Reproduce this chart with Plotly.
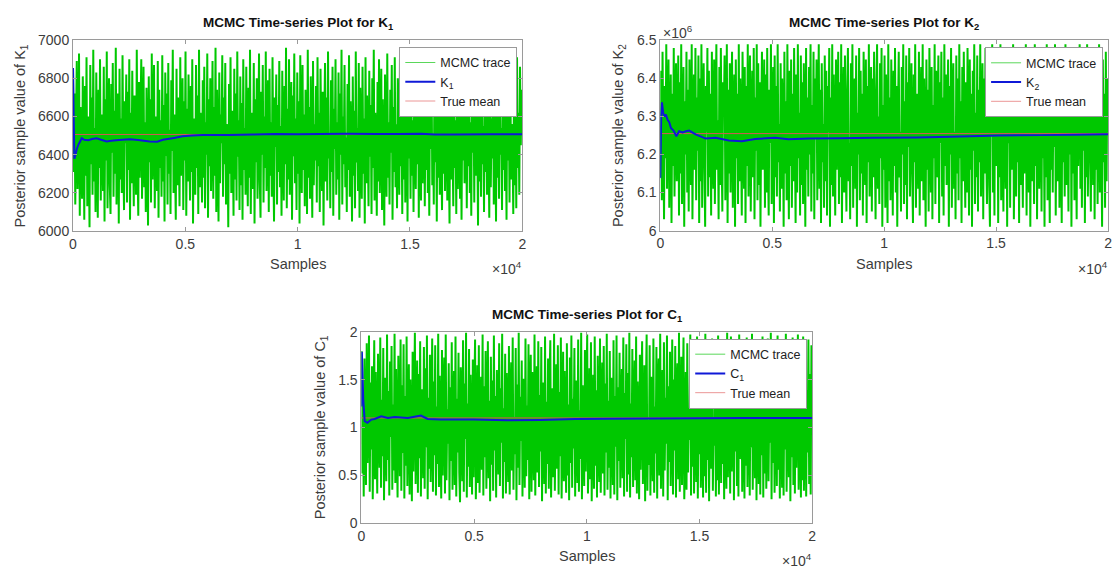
import numpy as np
import plotly.graph_objects as go

# ---------------- data ----------------
# Thinned MCMC draws (600 retained from a 20000-sample chain)
k1_trace = [
    6850, 6310, 6720, 6140, 6580, 6890, 6220, 6470, 6930, 6080, 6650, 6390, 6170, 6810, 6520, 6060, 6760, 6290, 6910, 6130, 6600, 6440, 6020, 6870, 6350,
    6700, 6190, 6950, 6260, 6540, 6100, 6830, 6420, 6070, 6740, 6330, 6900, 6160, 6610, 6480, 6210, 6860, 6050, 6690, 6370, 6940, 6120, 6560, 6800, 6240,
    6090, 6770, 6410, 6880, 6180, 6630, 6300, 6960, 6140, 6500, 6720, 6040, 6850, 6270, 6590, 6200, 6920, 6380, 6110, 6680, 6460, 6820, 6150, 6730, 6320,
    6900, 6060, 6620, 6250, 6840, 6430, 6130, 6710, 6550, 6190, 6950, 6340, 6080, 6780, 6280, 6640, 6900, 6170, 6490, 6860, 6230, 6570, 6100, 6750, 6400,
    6030, 6810, 6360, 6690, 6150, 6930, 6270, 6510, 6870, 6120, 6600, 6450, 6210, 6890, 6070, 6740, 6330, 6580, 6180, 6920, 6260, 6660, 6050, 6830, 6390,
    6720, 6140, 6880, 6300, 6530, 6090, 6790, 6420, 6950, 6200, 6610, 6350, 6060, 6850, 6240, 6700, 6470, 6130, 6910, 6290, 6560, 6800, 6110, 6680, 6370,
    6940, 6080, 6640, 6260, 6820, 6500, 6160, 6760, 6310, 6900, 6040, 6590, 6440, 6190, 6870, 6330, 6710, 6090, 6950, 6230, 6620, 6480, 6150, 6790, 6280,
    6860, 6120, 6570, 6400, 6930, 6070, 6690, 6340, 6800, 6210, 6520, 6890, 6170, 6650, 6290, 6960, 6100, 6740, 6380, 6050, 6830, 6250, 6610, 6460, 6920,
    6180, 6700, 6350, 6880, 6140, 6560, 6430, 6020, 6770, 6300, 6910, 6200, 6630, 6490, 6080, 6850, 6270, 6720, 6160, 6940, 6390, 6580, 6110, 6810, 6240,
    6670, 6060, 6900, 6320, 6540, 6190, 6860, 6410, 6130, 6750, 6280, 6950, 6090, 6620, 6450, 6220, 6880, 6040, 6690, 6360, 6800, 6170, 6510, 6930, 6260,
    6070, 6730, 6400, 6870, 6150, 6600, 6330, 6940, 6210, 6480, 6790, 6100, 6850, 6290, 6570, 6180, 6910, 6370, 6050, 6700, 6440, 6820, 6140, 6660, 6310,
    6890, 6230, 6550, 6080, 6840, 6420, 6160, 6760, 6350, 6960, 6120, 6640, 6270, 6900, 6190, 6500, 6780, 6060, 6710, 6390, 6930, 6250, 6590, 6110, 6830,
    6300, 6680, 6040, 6920, 6460, 6200, 6870, 6320, 6610, 6130, 6740, 6530, 6090, 6950, 6280, 6650, 6170, 6810, 6410, 6070, 6890, 6240, 6560, 6370, 6760,
    6150, 6910, 6340, 6620, 6100, 6850, 6450, 6210, 6730, 6030, 6580, 6880, 6260, 6700, 6160, 6940, 6380, 6510, 6120, 6790, 6310, 6860, 6080, 6640, 6430,
    6900, 6190, 6570, 6270, 6830, 6060, 6720, 6400, 6950, 6140, 6600, 6350, 6870, 6230, 6490, 6100, 6770, 6320, 6920, 6180, 6680, 6440, 6050, 6810, 6290,
    6630, 6120, 6940, 6360, 6540, 6210, 6880, 6070, 6750, 6420, 6170, 6860, 6300, 6590, 6040, 6910, 6250, 6710, 6480, 6130, 6840, 6390, 6660, 6090, 6800,
    6330, 6950, 6160, 6620, 6440, 6080, 6780, 6260, 6900, 6200, 6520, 6850, 6110, 6690, 6370, 6030, 6820, 6460, 6180, 6930, 6280, 6570, 6140, 6740, 6410,
    6870, 6060, 6650, 6310, 6910, 6230, 6560, 6120, 6800, 6430, 6190, 6960, 6340, 6610, 6090, 6760, 6270, 6880, 6150, 6500, 6720, 6050, 6850, 6380, 6640,
    6170, 6920, 6290, 6580, 6100, 6830, 6470, 6220, 6710, 6350, 6940, 6070, 6630, 6400, 6160, 6890, 6250, 6540, 6810, 6130, 6690, 6320, 6950, 6200, 6600,
    6080, 6770, 6430, 6870, 6240, 6510, 6140, 6920, 6360, 6680, 6050, 6840, 6280, 6600, 6190, 6900, 6420, 6110, 6750, 6300, 6960, 6210, 6560, 6830, 6160,
    6700, 6390, 6040, 6860, 6270, 6620, 6450, 6130, 6930, 6330, 6580, 6090, 6790, 6220, 6890, 6480, 6170, 6730, 6060, 6640, 6370, 6910, 6250, 6520, 6820,
    6120, 6680, 6340, 6950, 6200, 6570, 6080, 6850, 6410, 6740, 6150, 6900, 6290, 6610, 6460, 6030, 6810, 6260, 6700, 6180, 6940, 6350, 6550, 6100, 6870,
    6310, 6660, 6190, 6800, 6440, 6070, 6920, 6230, 6590, 6380, 6880, 6140, 6720, 6490, 6050, 6830, 6280, 6630, 6170, 6950, 6400, 6540, 6110, 6760, 6320,
    6890, 6210, 6600, 6060, 6850, 6370, 6710, 6150, 6930, 6270, 6560, 6430, 6090, 6800, 6240, 6680, 6120, 6910, 6330, 6620, 6190, 6860, 6450, 6740, 6510,
]

# K2 draws, in units of 10^6
k2_trace_e6 = [
    6.14, 6.42, 6.08, 6.47, 6.25, 6.03, 6.38, 6.19, 6.49, 6.11, 6.33, 6.45, 6.06, 6.28, 6.41, 6.02, 6.36, 6.17, 6.48, 6.09, 6.31, 6.44, 6.13, 6.22, 6.46,
    6.04, 6.39, 6.15, 6.49, 6.07, 6.27, 6.43, 6.01, 6.34, 6.20, 6.47, 6.10, 6.37, 6.05, 6.45, 6.24, 6.12, 6.49, 6.03, 6.30, 6.41, 6.16, 6.48, 6.08, 6.35,
    6.21, 6.46, 6.02, 6.40, 6.13, 6.49, 6.06, 6.32, 6.44, 6.18, 6.01, 6.38, 6.26, 6.48, 6.09, 6.42, 6.14, 6.36, 6.04, 6.47, 6.23, 6.11, 6.45, 6.07, 6.33,
    6.49, 6.16, 6.29, 6.03, 6.43, 6.12, 6.48, 6.20, 6.05, 6.39, 6.31, 6.46, 6.08, 6.25, 6.49, 6.02, 6.37, 6.15, 6.44, 6.10, 6.34, 6.47, 6.06, 6.28, 6.41,
    6.01, 6.45, 6.19, 6.36, 6.07, 6.49, 6.13, 6.40, 6.24, 6.04, 6.47, 6.30, 6.11, 6.43, 6.02, 6.38, 6.17, 6.49, 6.09, 6.33, 6.46, 6.05, 6.27, 6.42, 6.14,
    6.48, 6.03, 6.35, 6.21, 6.49, 6.08, 6.44, 6.12, 6.39, 6.01, 6.30, 6.47, 6.16, 6.26, 6.45, 6.06, 6.41, 6.10, 6.48, 6.19, 6.04, 6.37, 6.23, 6.49, 6.07,
    6.32, 6.43, 6.02, 6.46, 6.14, 6.38, 6.09, 6.49, 6.18, 6.28, 6.05, 6.44, 6.11, 6.40, 6.29, 6.01, 6.47, 6.15, 6.34, 6.08, 6.49, 6.22, 6.03, 6.42, 6.17,
    6.45, 6.06, 6.36, 6.13, 6.48, 6.25, 6.02, 6.41, 6.10, 6.49, 6.19, 6.31, 6.04, 6.46, 6.12, 6.39, 6.07, 6.44, 6.27, 6.01, 6.48, 6.16, 6.35, 6.09, 6.43,
    6.20, 6.49, 6.05, 6.33, 6.15, 6.47, 6.03, 6.40, 6.24, 6.45, 6.08, 6.30, 6.49, 6.11, 6.37, 6.02, 6.44, 6.18, 6.28, 6.06, 6.46, 6.13, 6.42, 6.04, 6.38,
    6.26, 6.48, 6.01, 6.35, 6.12, 6.49, 6.09, 6.41, 6.21, 6.04, 6.45, 6.16, 6.32, 6.47, 6.07, 6.39, 6.14, 6.49, 6.02, 6.29, 6.43, 6.10, 6.46, 6.19, 6.05,
    6.37, 6.48, 6.13, 6.23, 6.03, 6.44, 6.17, 6.49, 6.06, 6.34, 6.40, 6.11, 6.46, 6.01, 6.31, 6.20, 6.48, 6.08, 6.42, 6.15, 6.36, 6.04, 6.47, 6.25, 6.12,
    6.45, 6.02, 6.38, 6.18, 6.49, 6.09, 6.27, 6.43, 6.05, 6.40, 6.14, 6.47, 6.22, 6.03, 6.36, 6.49, 6.11, 6.30, 6.07, 6.44, 6.19, 6.48, 6.01, 6.33, 6.16,
    6.46, 6.06, 6.41, 6.24, 6.02, 6.49, 6.13, 6.35, 6.08, 6.45, 6.28, 6.04, 6.42, 6.17, 6.48, 6.10, 6.38, 6.01, 6.31, 6.47, 6.14, 6.26, 6.05, 6.43, 6.20,
    6.49, 6.07, 6.34, 6.12, 6.46, 6.03, 6.39, 6.22, 6.48, 6.09, 6.29, 6.44, 6.15, 6.02, 6.41, 6.18, 6.49, 6.06, 6.36, 6.25, 6.11, 6.47, 6.04, 6.32, 6.43,
    6.13, 6.49, 6.08, 6.40, 6.21, 6.01, 6.45, 6.16, 6.37, 6.05, 6.48, 6.27, 6.10, 6.43, 6.03, 6.33, 6.19, 6.49, 6.07, 6.42, 6.14, 6.30, 6.46, 6.02, 6.39,
    6.23, 6.47, 6.09, 6.35, 6.04, 6.49, 6.17, 6.41, 6.12, 6.28, 6.45, 6.01, 6.38, 6.20, 6.48, 6.06, 6.32, 6.44, 6.11, 6.26, 6.03, 6.46, 6.15, 6.40, 6.08,
    6.49, 6.19, 6.34, 6.02, 6.43, 6.13, 6.47, 6.24, 6.06, 6.39, 6.10, 6.48, 6.29, 6.04, 6.45, 6.16, 6.36, 6.01, 6.42, 6.21, 6.49, 6.07, 6.31, 6.14, 6.46,
    6.05, 6.37, 6.18, 6.49, 6.09, 6.27, 6.44, 6.03, 6.40, 6.15, 6.48, 6.22, 6.07, 6.33, 6.46, 6.12, 6.01, 6.41, 6.25, 6.49, 6.10, 6.35, 6.04, 6.47, 6.17,
    6.30, 6.45, 6.02, 6.38, 6.14, 6.49, 6.08, 6.42, 6.20, 6.05, 6.47, 6.28, 6.11, 6.44, 6.01, 6.36, 6.23, 6.48, 6.06, 6.40, 6.16, 6.32, 6.49, 6.03, 6.26,
    6.43, 6.09, 6.46, 6.18, 6.34, 6.02, 6.48, 6.12, 6.39, 6.25, 6.06, 6.45, 6.15, 6.31, 6.49, 6.04, 6.41, 6.21, 6.10, 6.47, 6.01, 6.37, 6.13, 6.44, 6.28,
    6.07, 6.49, 6.17, 6.40, 6.03, 6.35, 6.46, 6.11, 6.27, 6.48, 6.05, 6.42, 6.19, 6.33, 6.01, 6.45, 6.14, 6.49, 6.08, 6.38, 6.24, 6.02, 6.47, 6.16, 6.36,
    6.10, 6.44, 6.22, 6.49, 6.04, 6.31, 6.41, 6.13, 6.48, 6.06, 6.39, 6.26, 6.02, 6.46, 6.18, 6.35, 6.09, 6.49, 6.12, 6.43, 6.29, 6.05, 6.40, 6.20, 6.47,
    6.01, 6.34, 6.15, 6.48, 6.08, 6.42, 6.23, 6.03, 6.45, 6.17, 6.37, 6.49, 6.11, 6.30, 6.06, 6.44, 6.21, 6.47, 6.02, 6.39, 6.14, 6.49, 6.09, 6.32, 6.43,
    6.19, 6.05, 6.46, 6.27, 6.12, 6.48, 6.03, 6.38, 6.16, 6.44, 6.07, 6.33, 6.49, 6.10, 6.41, 6.24, 6.01, 6.45, 6.18, 6.36, 6.06, 6.47, 6.13, 6.40, 6.26,
]

c1_trace = [
    1.80, 0.52, 1.35, 0.28, 1.72, 0.95, 0.40, 1.88, 0.63, 1.21, 1.96, 0.33, 1.47, 0.77, 1.64, 0.25, 1.10, 1.91, 0.46, 1.58, 0.85, 0.31, 1.77, 1.02, 0.58,
    1.94, 0.37, 1.29, 0.70, 1.83, 0.24, 1.52, 1.15, 0.44, 1.97, 0.66, 1.38, 0.29, 1.69, 0.90, 1.85, 0.35, 1.24, 0.55, 1.98, 0.42, 1.61, 0.81, 0.27, 1.75,
    1.06, 0.49, 1.92, 0.34, 1.44, 0.73, 1.87, 0.26, 1.33, 0.60, 1.95, 0.39, 1.18, 1.66, 0.30, 1.50, 0.87, 0.23, 1.79, 0.54, 1.27, 1.99, 0.41, 0.98, 1.70,
    0.32, 1.56, 0.68, 1.90, 0.28, 1.40, 1.12, 0.47, 1.84, 0.36, 1.62, 0.79, 1.96, 0.25, 1.31, 0.57, 1.76, 0.43, 1.08, 1.93, 0.33, 1.48, 0.71, 1.86, 0.29,
    1.22, 0.62, 1.98, 0.38, 1.54, 0.92, 0.26, 1.81, 0.50, 1.36, 1.73, 0.31, 1.97, 0.45, 1.19, 0.83, 1.67, 0.24, 1.42, 0.65, 1.89, 0.35, 1.04, 1.59, 0.40,
    1.95, 0.28, 1.30, 0.74, 1.78, 0.53, 0.22, 1.63, 1.14, 0.44, 1.91, 0.33, 1.46, 0.88, 1.99, 0.27, 1.25, 0.59, 1.82, 0.38, 1.55, 0.97, 0.30, 1.71, 0.48,
    1.37, 1.92, 0.25, 0.80, 1.65, 0.42, 1.86, 0.32, 1.17, 1.53, 0.56, 1.97, 0.29, 1.43, 0.69, 1.80, 0.36, 1.01, 1.90, 0.47, 1.28, 0.23, 1.74, 0.61, 1.49,
    0.34, 1.96, 0.76, 1.33, 0.27, 1.60, 1.09, 0.51, 1.88, 0.39, 1.41, 0.84, 1.98, 0.26, 1.20, 0.64, 1.77, 0.31, 1.57, 0.93, 0.43, 1.85, 0.30, 1.26, 1.68,
    0.55, 1.94, 0.35, 1.11, 0.72, 1.83, 0.24, 1.45, 0.58, 1.99, 0.40, 1.32, 0.86, 1.70, 0.28, 1.51, 1.05, 0.37, 1.93, 0.49, 1.23, 0.66, 1.87, 0.25, 1.39,
    1.76, 0.33, 1.58, 0.91, 0.45, 1.97, 0.29, 1.16, 1.64, 0.53, 1.90, 0.38, 1.34, 0.75, 1.84, 0.23, 1.47, 0.99, 0.41, 1.95, 0.31, 1.27, 0.62, 1.72, 0.36,
    1.54, 1.91, 0.27, 0.82, 1.41, 0.48, 1.98, 0.34, 1.13, 1.66, 0.57, 1.86, 0.30, 1.37, 0.70, 1.94, 0.26, 1.03, 1.79, 0.44, 1.59, 0.89, 0.32, 1.88, 0.50,
    1.24, 0.24, 1.73, 0.63, 1.96, 0.37, 1.30, 0.78, 1.83, 0.28, 1.49, 1.07, 0.42, 1.92, 0.33, 1.18, 0.67, 1.99, 0.25, 1.44, 0.94, 0.39, 1.81, 0.54, 1.35,
    1.97, 0.31, 0.71, 1.62, 0.46, 1.89, 0.23, 1.21, 1.55, 0.36, 1.95, 0.60, 1.39, 0.27, 1.75, 0.85, 0.43, 1.93, 0.32, 1.10, 1.68, 0.52, 1.85, 0.29, 1.46,
    0.74, 1.98, 0.35, 1.28, 0.58, 1.80, 0.26, 1.52, 1.00, 0.40, 1.91, 0.30, 1.33, 0.80, 1.96, 0.24, 1.42, 0.65, 1.78, 0.37, 1.19, 1.61, 0.47, 1.94, 0.28,
    1.36, 0.88, 1.87, 0.33, 1.57, 0.51, 1.99, 0.27, 1.25, 0.69, 1.82, 0.38, 1.14, 1.70, 0.45, 1.95, 0.31, 1.48, 0.96, 0.25, 1.76, 0.56, 1.32, 1.90, 0.41,
    0.79, 1.65, 0.23, 1.40, 1.97, 0.34, 1.08, 0.61, 1.86, 0.29, 1.53, 0.92, 0.44, 1.93, 0.32, 1.22, 0.73, 1.84, 0.26, 1.45, 1.72, 0.50, 1.98, 0.36, 1.16,
    1.60, 0.28, 1.89, 0.55, 1.31, 0.83, 1.96, 0.24, 1.43, 0.64, 1.79, 0.39, 1.05, 1.92, 0.30, 1.50, 0.76, 1.85, 0.27, 1.37, 1.67, 0.46, 1.99, 0.33, 0.97,
    1.74, 0.40, 1.29, 1.94, 0.25, 0.68, 1.58, 0.35, 1.88, 0.53, 1.20, 0.87, 1.97, 0.29, 1.46, 0.59, 1.81, 0.31, 1.12, 1.63, 0.43, 1.95, 0.26, 1.34, 0.72,
    1.90, 0.37, 1.55, 0.95, 0.27, 1.77, 0.49, 1.98, 0.32, 1.26, 0.66, 1.84, 0.23, 1.41, 1.69, 0.57, 1.93, 0.34, 1.09, 0.81, 1.87, 0.28, 1.51, 0.45, 1.96,
    0.30, 1.18, 1.73, 0.42, 1.91, 0.62, 1.38, 0.25, 1.83, 0.86, 0.36, 1.99, 0.48, 1.27, 1.60, 0.31, 1.95, 0.54, 1.02, 1.78, 0.24, 1.44, 0.75, 1.89, 0.39,
    1.57, 0.28, 1.97, 0.67, 1.32, 1.86, 0.33, 0.90, 1.70, 0.26, 1.49, 0.60, 1.94, 0.38, 1.15, 1.81, 0.29, 1.40, 0.79, 1.98, 0.35, 1.23, 1.65, 0.47, 1.92,
    0.24, 1.53, 0.98, 0.41, 1.88, 0.30, 1.36, 0.71, 1.95, 0.27, 1.61, 0.52, 1.79, 0.36, 1.07, 1.93, 0.44, 1.28, 0.84, 1.99, 0.25, 1.47, 0.63, 1.85, 0.32,
    1.19, 1.75, 0.39, 1.96, 0.56, 1.34, 0.26, 1.67, 0.93, 0.37, 1.90, 0.29, 1.42, 0.77, 1.98, 0.33, 1.13, 1.58, 0.48, 1.87, 0.23, 1.30, 0.69, 1.94, 0.40,
    1.63, 0.31, 1.82, 0.58, 1.25, 1.97, 0.35, 0.88, 1.71, 0.27, 1.52, 0.45, 1.95, 0.34, 1.06, 1.80, 0.28, 1.39, 0.74, 1.92, 0.41, 1.56, 0.30, 1.86, 1.10,
]

# Running posterior means (sample index, value)
k1_mean_x = [1, 30, 60, 100, 170, 250, 390, 500, 685, 850, 1050, 1250, 1495, 1700, 1920, 2200, 2530, 2900, 3410,
             3750, 4000, 4500, 4880, 5300, 5770, 6950, 8000, 9000, 10000, 11000, 12200, 13500, 14500, 15500, 16100,
             17000, 18500, 20000]
k1_mean_y = [6854, 6600, 6379, 6395, 6430, 6455, 6486, 6478, 6476, 6482, 6486, 6478, 6469, 6473, 6476, 6478, 6481,
             6477, 6469, 6468, 6478, 6488, 6496, 6500, 6503, 6503, 6506, 6508, 6507, 6508, 6510, 6509, 6509, 6510,
             6506, 6506, 6507, 6507]

k2_mean_x = [1, 40, 75, 130, 180, 250, 325, 400, 475, 600, 720, 840, 1000, 1140, 1290, 1580, 2030, 2470, 3060, 3650,
             4240, 5130, 5720, 6650, 8000, 9500, 11440, 13000, 15100, 17000, 18500, 20000]
k2_mean_e6 = [6.138, 6.300, 6.337, 6.310, 6.300, 6.305, 6.291, 6.285, 6.270, 6.262, 6.248, 6.261, 6.258, 6.261, 6.263,
              6.253, 6.242, 6.244, 6.237, 6.235, 6.241, 6.244, 6.240, 6.242, 6.243, 6.244, 6.245, 6.247, 6.250, 6.251,
              6.252, 6.253]

c1_mean_x = [1, 20, 80, 145, 265, 440, 585, 880, 1175, 1470, 2060, 2640, 2940, 3520, 4990, 6460, 7930, 9500, 11000,
             13000, 15000, 17000, 20000]
c1_mean_y = [1.22, 1.79, 1.30, 1.066, 1.049, 1.083, 1.089, 1.117, 1.100, 1.110, 1.100, 1.124, 1.089, 1.083, 1.083,
             1.075, 1.078, 1.088, 1.092, 1.095, 1.098, 1.099, 1.099]

true_means = {"K1": 6506, "K2": 6.255, "C1": 1.10}

n_samples = 20000
x_ticks = [0, 5000, 10000, 15000, 20000]
x_tick_text = ["0", "0.5", "1", "1.5", "2"]

# ---------------- styling ----------------
W, H = 1120, 576
FONT = "Liberation Sans, Arial, Helvetica, sans-serif"
GREEN = "rgb(0,200,0)"
GREEN_KEY = "rgb(90,215,90)"
BLUE = "rgb(15,25,215)"
RED = "rgb(215,85,85)"
RED_KEY = "rgb(235,150,150)"
AXIS_GRAY = "#9a9a9a"
TEXT_GRAY = "#3c3c3c"


def px(x, y):
    """Pixel position -> paper coordinates."""
    return x / W, 1 - y / H


panels = [
    dict(sym="K<sub>1</sub>", trace=k1_trace, mx=k1_mean_x, my=k1_mean_y, tm=true_means["K1"],
         xd=(69.5, 522), yd=(33, 229.5), leg="legend", ytitle_x=17,
         yrange=[6000, 7000], yticks=[6000, 6200, 6400, 6600, 6800, 7000],
         ytext=["6000", "6200", "6400", "6600", "6800", "7000"]),
    dict(sym="K<sub>2</sub>", trace=k2_trace_e6, mx=k2_mean_x, my=k2_mean_e6, tm=true_means["K2"],
         xd=(661, 1112), yd=(33.3, 229), leg="legend2", ytitle_x=619,
         yrange=[6.0, 6.5], yticks=[6.0, 6.1, 6.2, 6.3, 6.4, 6.5],
         ytext=["6", "6.1", "6.2", "6.3", "6.4", "6.5"]),
    dict(sym="C<sub>1</sub>", trace=c1_trace, mx=c1_mean_x, my=c1_mean_y, tm=true_means["C1"],
         xd=(360, 814), yd=(333, 530), leg="legend3", ytitle_x=319,
         yrange=[0, 2], yticks=[0, 0.5, 1, 1.5, 2],
         ytext=["0", "0.5", "1", "1.5", "2"]),
]

fig = go.Figure()
annotations = []
layout = {}

for i, p in enumerate(panels, start=1):
    xa = "x" if i == 1 else f"x{i}"
    ya = "y" if i == 1 else f"y{i}"
    n = len(p["trace"])
    sample_idx = np.linspace(1, n_samples, n)

    # chain trace (drawn a little heavier so the thinned chain reads as a dense band)
    fig.add_trace(go.Scatter(x=sample_idx, y=p["trace"], mode="lines", name="MCMC trace",
                             line=dict(color=GREEN, width=2, simplify=False), showlegend=False,
                             xaxis=xa, yaxis=ya, legend=p["leg"]))
    fig.add_trace(go.Scatter(x=[1, n_samples], y=[p["tm"], p["tm"]], mode="lines", name="True mean",
                             line=dict(color=RED, width=1), showlegend=False,
                             xaxis=xa, yaxis=ya, legend=p["leg"]))
    fig.add_trace(go.Scatter(x=p["mx"], y=p["my"], mode="lines", name=p["sym"],
                             line=dict(color=BLUE, width=2, simplify=False), showlegend=False,
                             xaxis=xa, yaxis=ya, legend=p["leg"]))

    # legend keys (thin line samples, like the plotting defaults)
    for name, color, width in [("MCMC trace", GREEN_KEY, 1), (p["sym"], BLUE, 2), ("True mean", RED_KEY, 1)]:
        fig.add_trace(go.Scatter(x=[None], y=[None], mode="lines", name=name,
                                 line=dict(color=color, width=width), xaxis=xa, yaxis=ya,
                                 legend=p["leg"], hoverinfo="skip"))

    x0, x1 = p["xd"]
    y0, y1 = p["yd"]
    common = dict(showline=True, linecolor=AXIS_GRAY, linewidth=1, mirror="ticks",
                  ticks="inside", ticklen=4, tickcolor=AXIS_GRAY, showgrid=False, zeroline=False,
                  tickfont=dict(family=FONT, size=14, color=TEXT_GRAY))
    xkey = "xaxis" if i == 1 else f"xaxis{i}"
    ykey = "yaxis" if i == 1 else f"yaxis{i}"
    layout[xkey] = dict(domain=[x0 / W, x1 / W], range=[0, n_samples], anchor=ya,
                        tickvals=x_ticks, ticktext=x_tick_text, **common)
    layout[ykey] = dict(domain=[1 - y1 / H, 1 - y0 / H], range=p["yrange"], anchor=xa,
                        tickvals=p["yticks"], ticktext=p["ytext"], **common)

    cx = (x0 + x1) / 2
    # panel title
    tx, ty = px(cx, y0 - 17)
    annotations.append(dict(x=tx, y=ty, xref="paper", yref="paper", showarrow=False,
                            text=f"<b>MCMC Time-series Plot for {p['sym']}</b>",
                            font=dict(family=FONT, size=13.5, color="#111"), xanchor="center", yanchor="middle"))
    # x-axis title
    sx, sy = px(cx, y1 + 34)
    annotations.append(dict(x=sx, y=sy, xref="paper", yref="paper", showarrow=False, text="Samples",
                            font=dict(family=FONT, size=14.5, color=TEXT_GRAY), xanchor="center", yanchor="middle"))
    # x exponent
    ex, ey = px(x1 + 2, y1 + 38)
    annotations.append(dict(x=ex, y=ey, xref="paper", yref="paper", showarrow=False, text="×10<sup>4</sup>",
                            font=dict(family=FONT, size=14, color=TEXT_GRAY), xanchor="right", yanchor="middle"))
    # y-axis title
    ax_, ay_ = px(p["ytitle_x"], (y0 + y1) / 2)
    annotations.append(dict(x=ax_, y=ay_, xref="paper", yref="paper", showarrow=False, textangle=-90,
                            text=f"Posterior sample value of {p['sym']}",
                            font=dict(family=FONT, size=14.5, color=TEXT_GRAY), xanchor="center", yanchor="middle"))

    # legend box
    lx, ly = px(x1 - 5, y0 + 7)
    layout[p["leg"]] = dict(x=lx, y=ly, xanchor="right", yanchor="top", bgcolor="white",
                            bordercolor=AXIS_GRAY, borderwidth=1, itemwidth=30, tracegroupgap=0,
                            traceorder="normal",
                            font=dict(family=FONT, size=12.5, color="#222"))

# y exponent for the K2 panel
mx_, my_ = px(662, 25)
annotations.append(dict(x=mx_, y=my_, xref="paper", yref="paper", showarrow=False, text="×10<sup>6</sup>",
                        font=dict(family=FONT, size=14, color=TEXT_GRAY), xanchor="left", yanchor="middle"))

fig.update_layout(width=W, height=H, margin=dict(l=0, r=0, t=0, b=0),
                  paper_bgcolor="white", plot_bgcolor="white", showlegend=True,
                  annotations=annotations, **layout)

fig.write_html("out.html", config={"displayModeBar": False})
